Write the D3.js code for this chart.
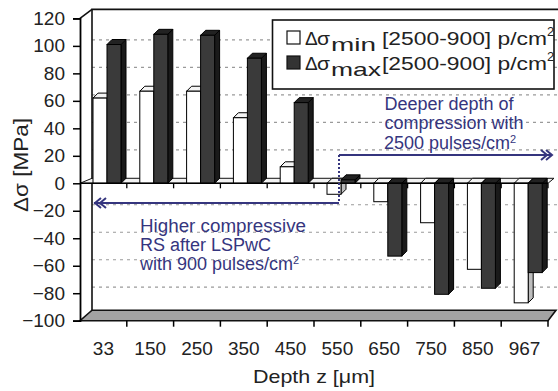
<!DOCTYPE html>
<html><head><meta charset="utf-8">
<script src="https://cdn.jsdelivr.net/npm/d3@7/dist/d3.min.js"></script>
<style>body{margin:0;background:#fff}svg{display:block}svg text{font-family:"Liberation Sans",Arial,sans-serif}</style>
</head><body><svg id="c" width="558" height="391"></svg>
<script>
const categories = ["33","150","250","350","450","550","650","750","850","967"];
const minValues = [62, 67, 67, 47.7, 12, -8, -13.4, -28.7, -62.6, -87];
const maxValues = [101, 108.4, 107.7, 91, 58.7, 2.5, -53, -80.8, -76.4, -65];
const yTicks = [120,100,80,60,40,20,0,-20,-40,-60,-80,-100];
const gridValues = [100,80,60,40,20,-20,-40,-60,-80];

const FONT = '"Liberation Sans", Arial, sans-serif';
const svg = d3.select("#c");
const x = d3.scaleBand().domain(categories).range([80, 548]).padding(0);
const y = d3.scaleLinear().domain([-100, 120]).range([320.7, 18.4]);
const y0 = y(0);
const wallDy = -9;
const navy = "#35357e";

// back wall gridlines
svg.append("g").selectAll("line").data(gridValues).join("line")
  .attr("x1", 92).attr("x2", 558)
  .attr("y1", d => y(d) - 6).attr("y2", d => y(d) - 6)
  .attr("stroke", "#9a9a9a").attr("stroke-width", 1.2).attr("stroke-dasharray", "3,4");

// back wall edges
svg.append("path").attr("d", `M92,${y(-100)-10}V${y(120)+wallDy}H558`)
  .attr("fill", "none").attr("stroke", "#111").attr("stroke-width", 1.6);
svg.append("line").attr("x1", 80).attr("y1", y(120)).attr("x2", 92).attr("y2", y(120)+wallDy)
  .attr("stroke", "#111").attr("stroke-width", 1.6);

// floor
const fl = y(-100);
svg.append("path").attr("d", `M80,${fl}L548,${fl}L556,${fl-10.5}L92,${fl-10.5}Z`)
  .attr("fill", "#a3a3a3").attr("stroke", "#111").attr("stroke-width", 1.6);

// zero plane strip
const zdx = 6, zdy = -5;
svg.append("path").attr("d", `M80,${y0}L548,${y0}L${548+zdx},${y0+zdy}L${80+zdx+6},${y0+zdy}Z`)
  .attr("fill", "#f2f2f2").attr("stroke", "#111").attr("stroke-width", 1);

// bars
const bdx = 5, bdy = -5, bw = 14;
function bar(g, x0, v, cols) {
  const yv = y(v);
  const top = Math.min(yv, y0), bot = Math.max(yv, y0);
  const ty = v >= 0 ? yv : y0;
  const sideTop = v >= 0 ? yv : y0, sideBot = v >= 0 ? y0 : yv;
  g.append("path").attr("d", `M${x0+bw},${sideTop}L${x0+bw+bdx},${sideTop+bdy}L${x0+bw+bdx},${sideBot+bdy}L${x0+bw},${sideBot}Z`)
    .attr("fill", cols[2]).attr("stroke", "#000").attr("stroke-width", 1);
  g.append("path").attr("d", `M${x0},${ty}L${x0+bw},${ty}L${x0+bw+bdx},${ty+bdy}L${x0+bdx},${ty+bdy}Z`)
    .attr("fill", cols[1]).attr("stroke", "#000").attr("stroke-width", 1);
  g.append("rect").attr("x", x0).attr("y", top).attr("width", bw).attr("height", bot - top)
    .attr("fill", cols[0]).attr("stroke", "#000").attr("stroke-width", 1);
}
const bars = svg.append("g");
categories.forEach((c, i) => {
  const b = x(c);
  bar(bars, b + 13, minValues[i], ["#ffffff", "#f4f4f4", "#bdbdbd"]);
  bar(bars, b + 27, maxValues[i], ["#3a3a3a", "#222", "#1a1a1a"]);
});

// zero axis line + ticks
svg.append("line").attr("x1", 80).attr("x2", 548).attr("y1", y0).attr("y2", y0)
  .attr("stroke", "#000").attr("stroke-width", 1.5);
const bounds = categories.map(c => x(c)).concat([548]);
svg.append("g").selectAll("line").data(bounds.slice(1)).join("line")
  .attr("x1", d => d).attr("x2", d => d).attr("y1", y0).attr("y2", y0 + 5)
  .attr("stroke", "#000").attr("stroke-width", 1.3);

// floor ticks
svg.append("g").selectAll("line").data(bounds.slice(1)).join("line")
  .attr("x1", d => d).attr("x2", d => d).attr("y1", fl).attr("y2", fl + 6)
  .attr("stroke", "#000").attr("stroke-width", 1.5);

// y axis
const yAxis = d3.axisLeft(y).tickValues(yTicks).tickSize(7).tickPadding(8).tickFormat(d3.format("d"));
const ga = svg.append("g").attr("transform", "translate(80,0)").call(yAxis).attr("font-family", FONT);
ga.select(".domain").attr("stroke", "#000").attr("stroke-width", 1.8);
ga.selectAll(".tick line").attr("stroke", "#000").attr("stroke-width", 1.5);
ga.selectAll(".tick text").attr("font-size", 19).attr("font-family", FONT).attr("fill", "#222");

// x category labels
svg.append("g").selectAll("text").data(categories).join("text")
  .attr("x", d => x(d) + x.bandwidth()/2).attr("y", 355)
  .attr("text-anchor", "middle").attr("font-size", 19).attr("fill", "#222").text(d => d);

// axis titles
svg.append("text").attr("x", 253).attr("y", 383)
  .attr("font-size", 19).attr("fill", "#222")
  .attr("textLength", 122).attr("lengthAdjust", "spacingAndGlyphs").text("Depth z [μm]");
svg.append("text").attr("transform", "translate(28,212) rotate(-90)")
  .attr("font-size", 20).attr("fill", "#222")
  .attr("textLength", 94).attr("lengthAdjust", "spacingAndGlyphs").text("Δσ [MPa]");

// legend
const lg = svg.append("g");
lg.append("rect").attr("x", 272.5).attr("y", 20).attr("width", 281.5).attr("height", 69)
  .attr("fill", "#fff").attr("stroke", "#111").attr("stroke-width", 1.6);
const legendRows = [
  {sub: "min", fill: "#fff", base: 45},
  {sub: "max", fill: "#333", base: 70}
];
legendRows.forEach(r => {
  lg.append("rect").attr("x", 287).attr("y", r.base - 14).attr("width", 13).attr("height", 13)
    .attr("fill", r.fill).attr("stroke", "#111").attr("stroke-width", 1.2);
  const t = lg.append("text").attr("font-size", 19).attr("fill", "#222");
  t.append("tspan").attr("x", 305).attr("y", r.base).text("Δ");
  t.append("tspan").attr("x", 317).attr("y", r.base).attr("textLength", 13).attr("lengthAdjust", "spacingAndGlyphs").text("σ");
  t.append("tspan").attr("x", 331).attr("y", r.base + 6).attr("textLength", r.sub === "min" ? 45 : 50).attr("lengthAdjust", "spacingAndGlyphs").text(r.sub);
  t.append("tspan").attr("x", 382).attr("y", r.base).attr("textLength", 165).attr("lengthAdjust", "spacingAndGlyphs").text("[2500-900] p/cm");
  t.append("tspan").attr("x", 547).attr("y", r.base - 9).attr("font-size", 13).text("2");
});

// annotations
const ann = svg.append("g").attr("fill", navy).attr("font-size", 18);
const a1 = ann.append("text").attr("text-anchor", "middle");
a1.append("tspan").attr("x", 449).attr("y", 110).text("Deeper depth of");
a1.append("tspan").attr("x", 454).attr("y", 129).text("compression with");
const l3 = a1.append("tspan").attr("x", 450).attr("y", 149);
l3.append("tspan").text("2500 pulses/cm");
l3.append("tspan").attr("dy", -6).attr("font-size", 11).text("2");

const a2 = ann.append("text");
a2.append("tspan").attr("x", 140).attr("y", 232).attr("textLength", 166).attr("lengthAdjust", "spacingAndGlyphs").text("Higher compressive");
a2.append("tspan").attr("x", 140).attr("y", 250.5).text("RS  after LSPwC");
const l6 = a2.append("tspan").attr("x", 140).attr("y", 269.5);
l6.append("tspan").text("with 900 pulses/cm");
l6.append("tspan").attr("dy", -6).attr("font-size", 11).text("2");

// arrows
const arr = svg.append("g").attr("stroke", navy).attr("fill", "none").attr("stroke-width", 2);
arr.append("line").attr("x1", 339).attr("x2", 552).attr("y1", 155).attr("y2", 155);
arr.append("path").attr("d", "M541,150L547,155L541,160M546,150L552,155L546,160");
arr.append("line").attr("x1", 94).attr("x2", 339).attr("y1", 203).attr("y2", 203);
arr.append("path").attr("d", "M101,198L95,203L101,208M106,198L100,203L106,208");
arr.append("line").attr("x1", 339).attr("x2", 339).attr("y1", 155).attr("y2", 203)
  .attr("stroke-dasharray", "2,2");
</script></body></html>
